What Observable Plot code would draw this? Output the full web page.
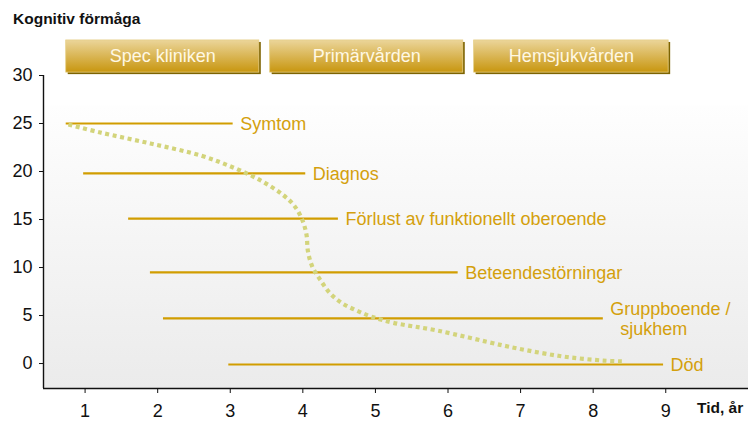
<!DOCTYPE html>
<html>
<head>
<meta charset="utf-8">
<script src="https://cdn.jsdelivr.net/npm/d3@7"></script>
<script src="https://cdn.jsdelivr.net/npm/@observablehq/plot@0.6"></script>
<style>
  html, body { margin: 0; padding: 0; background: #fff; }
  #wrap { position: relative; width: 748px; height: 421px; font-family: "Liberation Sans", Arial, sans-serif; }
  #title { position: absolute; left: 13px; top: 10px; font-weight: bold; font-size: 15.5px; color: #111; line-height: 18px; }
  #xlabel { position: absolute; left: 697px; top: 399px; font-weight: bold; font-size: 15.5px; color: #111; line-height: 18px; }
</style>
</head>
<body>
<div id="wrap">
  <div id="chart"></div>
  <div id="title">Kognitiv förmåga</div>
  <div id="xlabel">Tid, år</div>
</div>
<script>
// ---- data ----
const settings = ["Spec kliniken", "Primärvården", "Hemsjukvården"];
const settingStart = [0.74, 3.55, 6.36];
const settingEnd = [3.40, 6.21, 9.04];

const events = ["Symtom", "Diagnos", "Förlust av funktionellt oberoende", "Beteendestörningar", "Gruppboende /\n\u00a0\u00a0sjukhem", "Död"];
const eventStart = [0.74, 0.98, 1.60, 1.90, 2.08, 2.98];
const eventEnd = [3.04, 4.04, 4.49, 6.14, 8.14, 8.97];
const eventLevel = [25.0, 19.8, 15.1, 9.5, 4.7, -0.1];

const curveYears = [0.77, 1.21, 1.90, 2.59, 3.04, 3.42, 3.72, 3.88, 3.99, 4.05, 4.07, 4.13, 4.24, 4.37, 4.54, 4.74, 4.94, 5.25, 5.85, 6.76, 7.27, 7.69, 8.14, 8.42];
const curveScore = [24.9, 24.06, 22.92, 21.67, 20.42, 19.06, 17.6, 16.46, 15.0, 13.44, 11.7, 10.1, 8.72, 7.36, 6.28, 5.52, 4.9, 4.24, 3.44, 1.88, 1.12, 0.63, 0.31, 0.21];

const xTicks = [1, 2, 3, 4, 5, 6, 7, 8, 9];
const yTicks = [0, 5, 10, 15, 20, 25, 30];

// ---- tables ----
const settingRows = settings.map((s, i) => ({name: s, start: settingStart[i], end: settingEnd[i]}));
const eventRows = events.map((e, i) => ({name: e, start: eventStart[i], end: eventEnd[i], level: eventLevel[i]}));
const curveRows = curveYears.map((x, i) => ({x, y: curveScore[i]}));

const gold = "#d19d00";
const goldText = "#d4a00c";
const font = "'Liberation Sans', Arial, sans-serif";

const chart = Plot.plot({
  width: 748,
  height: 421,
  marginLeft: 43,
  marginRight: 0,
  marginTop: 75,
  marginBottom: 33,
  style: {fontFamily: font, fontSize: "18px", color: "#111", background: "transparent"},
  x: {domain: [0.427, 10.14], ticks: xTicks, tickSize: 5, tickPadding: 11, label: null, tickFormat: d => String(d)},
  y: {domain: [-2.6, 30], ticks: yTicks, tickSize: 4, tickPadding: 7, label: null, tickFormat: d => String(d)},
  marks: [
    Plot.frame({fill: "url(#bgGrad)", stroke: "none", insetTop: 30}),
    Plot.ruleX([0.427], {stroke: "#111", strokeWidth: 1.4}),
    Plot.ruleY([-2.6], {stroke: "#111", strokeWidth: 1.4}),
    // care-setting boxes (shadow then box)
    Plot.rect(settingRows, {x1: "start", x2: "end", y1: 30.3, y2: 33.65, fill: "#7d6300", dx: 2, dy: 2}),
    Plot.rect(settingRows, {x1: "start", x2: "end", y1: 30.3, y2: 33.65, fill: "url(#boxGrad)", stroke: "#e6cf86", strokeWidth: 0.8}),
    Plot.text(settingRows, {x: d => (d.start + d.end) / 2, y: 32.0, text: "name", fill: "#fff8e4", fontSize: 18, fontFamily: font}),
    // event lines
    Plot.ruleY(eventRows, {y: "level", x1: "start", x2: "end", stroke: gold, strokeWidth: 2.2}),
    Plot.text(eventRows, {x: "end", y: "level", text: "name", dx: 7, textAnchor: "start", lineAnchor: "middle", lineHeight: 1.1, fill: goldText, fontSize: 18, fontFamily: font}),
    // cognitive decline curve
    Plot.line(curveRows, {x: "x", y: "y", curve: "catmull-rom", stroke: "#d3d47b", strokeWidth: 4.2, strokeDasharray: "4 3.6", strokeLinecap: "butt"})
  ]
});

// gradients
const defs = d3.select(chart).insert("defs", ":first-child");
const bg = defs.append("linearGradient").attr("id", "bgGrad").attr("x1", 0).attr("y1", 0).attr("x2", 0).attr("y2", 1);
bg.append("stop").attr("offset", "0%").attr("stop-color", "#fefefe");
bg.append("stop").attr("offset", "100%").attr("stop-color", "#ebebeb");
const bx = defs.append("linearGradient").attr("id", "boxGrad").attr("x1", 0).attr("y1", 0).attr("x2", 0).attr("y2", 1);
bx.append("stop").attr("offset", "0%").attr("stop-color", "#ebd59a");
bx.append("stop").attr("offset", "100%").attr("stop-color", "#c8960f");

document.getElementById("chart").appendChild(chart);
</script>
</body>
</html>
